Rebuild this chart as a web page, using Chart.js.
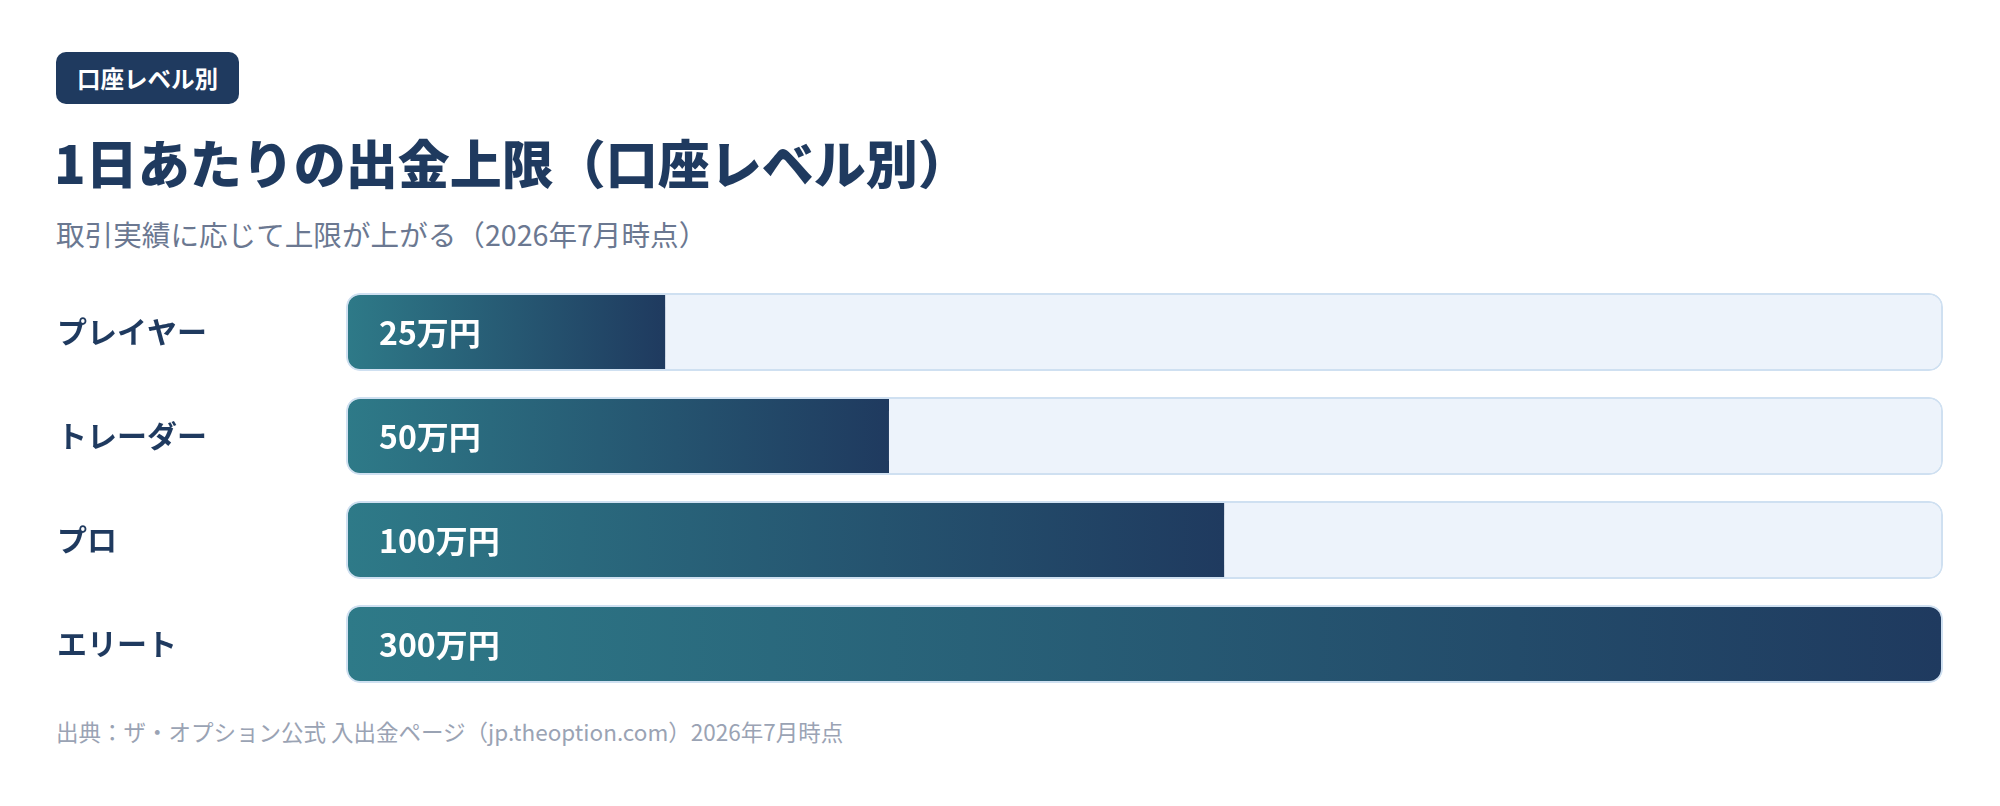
<!DOCTYPE html>
<html lang="ja">
<head>
<meta charset="utf-8">
<script src="https://cdn.jsdelivr.net/npm/chart.js@4.4.1/dist/chart.umd.min.js"></script>
<style>
  html, body { margin: 0; padding: 0; background: #ffffff; }
  body { width: 2000px; height: 806px; position: relative; overflow: hidden;
         font-family: "Noto Sans CJK JP", "Noto Sans", sans-serif; }
  .badge { position: absolute; left: 56px; top: 52px; height: 52px; line-height: 52px;
           padding: 0 21px; border-radius: 10px; background: #1f3a5f; color: #fff;
           font-size: 23.5px; font-weight: 700; }
  .title { position: absolute; left: 54px; top: 131px; line-height: 62px; font-size: 52px;
           font-weight: 900; color: #1f3a5f; white-space: nowrap; }
  .subtitle { position: absolute; left: 56px; top: 215px; line-height: 38px; font-size: 28.6px;
              color: #6b7891; white-space: nowrap; }
  .source { position: absolute; left: 56px; top: 715px; line-height: 32px; font-size: 22.5px;
            color: #9aa3b4; white-space: nowrap; }
  .chart-box { position: absolute; left: 0; top: 280px; width: 2000px; height: 416px; }
</style>
</head>
<body>
<div class="badge">口座レベル別</div>
<div class="title">1日あたりの出金上限（口座レベル別）</div>
<div class="subtitle">取引実績に応じて上限が上がる（2026年7月時点）</div>
<div class="chart-box"><canvas id="limitChart"></canvas></div>
<div class="source">出典：ザ・オプション公式 入出金ページ（jp.theoption.com）2026年7月時点</div>

<script>
// account levels and daily withdrawal limit (万円)
const levels = ['プレイヤー', 'トレーダー', 'プロ', 'エリート'];
const limits = [25, 50, 100, 300];
// bar length as drawn (% of the track), the chart is not to scale
const barPercent = [20, 34, 55, 100];
const trackMax = 100;

const navy = '#1f3a5f';
const teal = '#2e7a88';

function barGradient(ctx) {
    const chart = ctx.chart;
    const xs = chart.scales.x;
    if (!xs || !chart.chartArea) return navy;
    const left = xs.getPixelForValue(0);
    const right = xs.getPixelForValue(barPercent[ctx.dataIndex]);
    const g = chart.ctx.createLinearGradient(left, 0, right, 0);
    g.addColorStop(0, teal);
    g.addColorStop(1, navy);
    return g;
}

const valueLabels = {
    id: 'valueLabels',
    afterDatasetsDraw(chart) {
        const meta = chart.getDatasetMeta(1);
        const c = chart.ctx;
        c.save();
        c.fillStyle = '#ffffff';
        c.font = '700 32px "Noto Sans CJK JP", sans-serif';
        c.textAlign = 'left';
        c.textBaseline = 'middle';
        meta.data.forEach((bar, i) => {
            c.fillText(limits[i] + '万円', bar.base + 33, bar.y + 1);
        });
        c.restore();
    }
};

const ctx = document.getElementById('limitChart').getContext('2d');
const chart = new Chart(ctx, {
    type: 'bar',
    data: {
        labels: levels,
        datasets: [{
            label: 'track',
            data: levels.map(() => trackMax),
            backgroundColor: '#edf3fb',
            borderColor: '#cfe0f1',
            borderWidth: 2,
            borderRadius: 14,
            borderSkipped: false,
            grouped: false,
            order: 2,
            clip: 6
        }, {
            label: '出金上限',
            data: barPercent,
            backgroundColor: barGradient,
            borderColor: 'rgba(0,0,0,0)',
            borderWidth: 2,
            borderRadius: 14,
            borderSkipped: (c) => barPercent[c.dataIndex] >= trackMax ? false : 'end',
            grouped: false,
            order: 1,
            clip: 6
        }]
    },
    options: {
        indexAxis: 'y',
        responsive: true,
        maintainAspectRatio: false,
        animation: false,
        categoryPercentage: 0.75,
        barPercentage: 1,
        layout: { padding: { left: 57, right: 57, top: 0, bottom: 0 } },
        scales: {
            x: { display: false, min: 0, max: trackMax },
            y: {
                grid: { display: false },
                border: { display: false },
                ticks: {
                    crossAlign: 'far',
                    color: navy,
                    font: { family: '"Noto Sans CJK JP", sans-serif', size: 30, weight: '700' }
                },
                afterFit: (scale) => {
                    scale.width = 289;
                    scale.paddingTop = 0;
                    scale.paddingBottom = 0;
                }
            }
        },
        plugins: {
            legend: { display: false },
            tooltip: { enabled: false }
        }
    },
    plugins: [valueLabels]
});
</script>
</body>
</html>
